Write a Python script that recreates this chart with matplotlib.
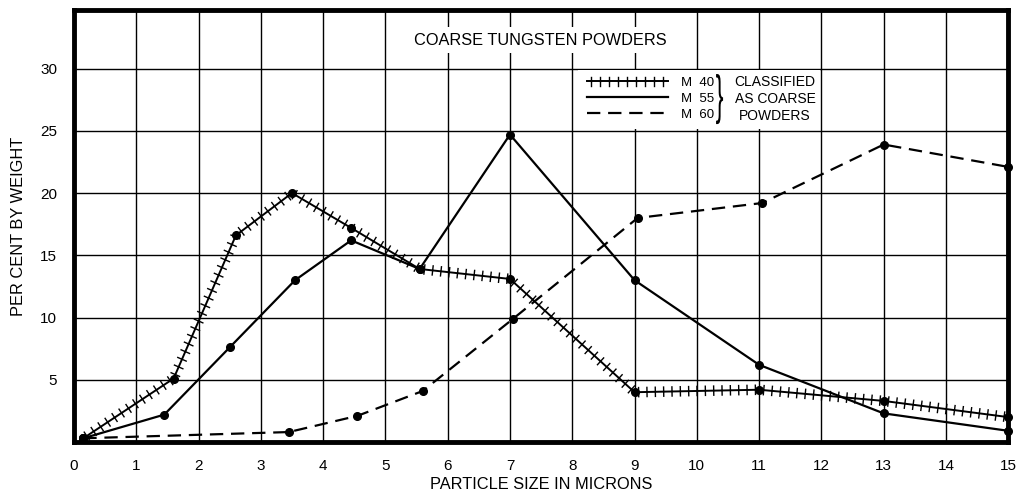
import numpy as np
import matplotlib
matplotlib.use('Agg')
import matplotlib.pyplot as plt
from matplotlib import patheffects
from matplotlib.lines import Line2D
from matplotlib.patches import Rectangle, PathPatch
from matplotlib.textpath import TextPath
from matplotlib.font_manager import FontProperties
from matplotlib.transforms import Affine2D, ScaledTranslation

plt.rcParams['font.family'] = ['Liberation Sans', 'DejaVu Sans']

# particle size (microns) vs per cent by weight
m40_size = [0.15, 1.6, 2.6, 3.5, 4.45, 5.55, 7.0, 9.0, 11.0, 13.0, 15.0]
m40_pct = [0.3, 5.1, 16.6, 20.0, 17.2, 13.9, 13.1, 4.0, 4.2, 3.3, 2.0]

m55_size = [0.15, 1.45, 2.5, 3.55, 4.45, 5.55, 7.0, 9.0, 11.0, 13.0, 15.0]
m55_pct = [0.3, 2.2, 7.6, 13.0, 16.2, 13.9, 24.7, 13.0, 6.2, 2.3, 0.9]

m60_size = [0.15, 3.45, 4.55, 5.6, 7.05, 9.05, 11.05, 13.0, 15.0]
m60_pct = [0.3, 0.8, 2.1, 4.1, 9.9, 18.0, 19.2, 23.9, 22.1]

series_labels = ['M  40', 'M  55', 'M  60']
x_ticks = list(range(0, 16))
y_ticks = [5, 10, 15, 20, 25, 30]

fig = plt.figure(figsize=(10.2, 5.04), dpi=100)
ax = fig.add_axes([0.0725, 0.123, 0.916, 0.857])

# cross-hatched line style for M 40
hatch_fx = [
    patheffects.TickedStroke(spacing=6, angle=90, length=0.55, linewidth=1.0),
    patheffects.TickedStroke(spacing=6, angle=-90, length=0.55, linewidth=1.0),
    patheffects.Normal(),
]

ax.plot(m40_size, m40_pct, color='black', lw=1.4, path_effects=hatch_fx, clip_on=False, zorder=3)
ax.plot(m40_size, m40_pct, ls='none', marker='o', ms=5.5, color='black', clip_on=False, zorder=4)

ax.plot(m55_size, m55_pct, color='black', lw=1.6, marker='o', ms=5.5, clip_on=False, zorder=3)

ax.plot(m60_size, m60_pct, color='black', lw=1.6, dashes=(6, 3.5), clip_on=False, zorder=3)
ax.plot(m60_size, m60_pct, ls='none', marker='o', ms=5.5, color='black', clip_on=False, zorder=4)

ax.set_xlim(0, 15)
ax.set_ylim(0, 34.7)
ax.set_xticks(x_ticks)
ax.set_yticks(y_ticks)
ax.grid(True, color='black', lw=1.0)
ax.tick_params(length=0, labelsize=11)
ax.tick_params(axis='x', pad=12)
ax.tick_params(axis='y', pad=12)
for sp in ax.spines.values():
    sp.set_linewidth(3.5)

ax.set_xlabel('PARTICLE SIZE IN MICRONS', fontsize=11.8, labelpad=3)
ax.set_ylabel('PER CENT BY WEIGHT', fontsize=11.8, labelpad=10)

ax.text(0.499, 0.930, 'COARSE TUNGSTEN POWDERS', transform=ax.transAxes,
        ha='center', va='center', fontsize=11.8,
        bbox=dict(facecolor='white', edgecolor='none', pad=4), zorder=5)

# white box behind the legend
ax.add_patch(Rectangle((0.539, 0.724), 0.260, 0.137, transform=ax.transAxes,
                       facecolor='white', edgecolor='none', zorder=1.8))

handles = [
    Line2D([], [], color='black', lw=1.4, path_effects=hatch_fx),
    Line2D([], [], color='black', lw=1.6),
    Line2D([], [], color='black', lw=1.6, dashes=(6, 3.5)),
]
leg = ax.legend(handles, series_labels, loc='upper left', bbox_to_anchor=(0.545, 0.855),
                frameon=False, fontsize=9.5, handlelength=6.1, handletextpad=1.0,
                labelspacing=0.28, borderaxespad=0, borderpad=0.3)

ax.text(0.7505, 0.794, 'CLASSIFIED\nAS COARSE\nPOWDERS', transform=ax.transAxes,
        ha='center', va='center', fontsize=10, linespacing=1.3, zorder=5)

# thin curly brace grouping the three series
brace = TextPath((0, 0), '}', size=10, prop=FontProperties(family='Liberation Sans'))
ext = brace.get_extents()
cx, cy = (ext.x0 + ext.x1) / 2, (ext.y0 + ext.y1) / 2
sx = 7.0 / ext.width
sy = 50.0 / ext.height
tr = (Affine2D().translate(-cx, -cy).scale(sx, sy)
      + ScaledTranslation(0.691, 0.794, ax.transAxes))
ax.add_patch(PathPatch(brace, transform=tr, facecolor='black', edgecolor='none',
                       zorder=5, clip_on=False))

fig.savefig('out.png', dpi=100)
